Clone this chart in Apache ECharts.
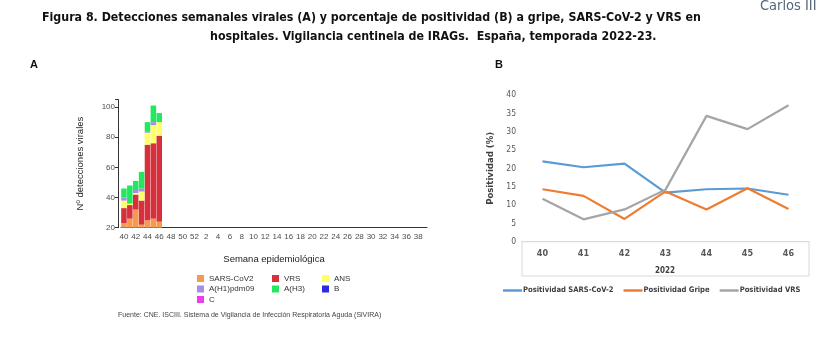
<!DOCTYPE html>
<html><head><meta charset="utf-8">
<script src="https://cdn.jsdelivr.net/npm/echarts@6/dist/echarts.min.js"></script>
<style>html,body{margin:0;padding:0;background:#fff}#c{width:829px;height:343px}</style>
</head><body><div id="c"></div>
<script>
// ---- Panel A data ----
const weeks = ['40','41','42','43','44','45','46','47','48','49','50','51','52',
  '1','2','3','4','5','6','7','8','9','10','11','12','13','14','15','16','17','18','19',
  '20','21','22','23','24','25','26','27','28','29','30','31','32','33','34','35','36','37','38','39'];
const sarsCov2 = [23, 26, 32, 22, 25, 26, 24];
const vrs      = [10,  9, 10, 16, 50, 50, 57];
const ans      = [ 5,  1,  1,  6,  8, 12,  9];
const ah1pdm09 = [ 2,  0,  2,  2,  1,  2,  0];
const ah3      = [ 6, 12,  6, 11,  6, 11,  6];
const gripeB   = [ 0,  0,  0,  0,  0,  0,  0];
const gripeC   = [ 0,  0,  0,  0,  0,  0,  0];
const yTicksA  = [20, 40, 60, 80, 100];

// ---- Panel B data ----
const semanasB = ['40','41','42','43','44','45','46'];
const posSars  = [21.9, 20.3, 21.3, 13.4, 14.3, 14.5, 12.8];
const posGripe = [14.3, 12.5, 6.2, 13.7, 8.8, 14.6, 8.9];
const posVrs   = [11.7, 6.1, 8.8, 14.2, 34.3, 30.7, 37.2];

const arial = "'Liberation Sans', Arial, sans-serif";
const calibri = "'Liberation Sans Narrow', 'DejaVu Sans Condensed', 'Liberation Sans', sans-serif";

function bar(name, data, color) {
  return { name, type: 'bar', stack: 'a', xAxisIndex: 0, yAxisIndex: 0,
    data, barCategoryGap: '6%', itemStyle: { color }, emphasis: { disabled: true } };
}
function line(name, data, color) {
  return { name, type: 'line', xAxisIndex: 1, yAxisIndex: 1, data, symbol: 'none',
    lineStyle: { color, width: 2.2 }, itemStyle: { color }, emphasis: { disabled: true } };
}

const chart = echarts.init(document.getElementById('c'), null, { renderer: 'canvas' });
const legendBase = { orient: 'vertical', itemWidth: 7, itemHeight: 7, itemGap: 2.5, padding: 0,
  icon: 'rect', textStyle: { fontFamily: arial, fontSize: 8, color: '#333' }, selectedMode: false };

chart.setOption({
  animation: false,
  grid: [
    { left: 121, right: 402, top: 99.5, bottom: 115.3 },
    { left: 522, right: 20, top: 95, bottom: 101.3 },
    { left: 522, right: 20, top: 241.7, bottom: 67, show: true, borderColor: '#d9d9d9', borderWidth: 1, backgroundColor: 'transparent' }
  ],
  xAxis: [
    { type: 'category', gridIndex: 0, data: weeks,
      axisLine: { lineStyle: { color: '#333', width: 1 } },
      axisTick: { interval: 0, length: 3, lineStyle: { color: '#333' } },
      axisLabel: { interval: 1, fontFamily: arial, fontSize: 8, color: '#4d4d4d', margin: 5 },
      name: 'Semana epidemiológica', nameLocation: 'middle', nameGap: 27,
      nameTextStyle: { fontFamily: arial, fontSize: 9.5, color: '#222' } },
    { type: 'category', gridIndex: 1, data: semanasB,
      axisLine: { lineStyle: { color: '#d9d9d9' } }, axisTick: { show: false },
      axisLabel: { fontFamily: calibri, fontWeight: 'bold', fontSize: 9, color: '#595959', margin: 7 } },
    { type: 'category', gridIndex: 2, show: false, data: semanasB }
  ],
  yAxis: [
    { type: 'value', gridIndex: 0, min: 20, max: 105, interval: 20, offset: 3,
      splitLine: { show: false },
      axisLine: { show: true, lineStyle: { color: '#333' } },
      axisTick: { show: true, length: 3, lineStyle: { color: '#333' } },
      axisLabel: { fontFamily: arial, fontSize: 8, color: '#4d4d4d', margin: 3,
        formatter: v => yTicksA.includes(v) ? String(v) : '' },
      name: 'Nº detecciones virales', nameLocation: 'middle', nameGap: 33, nameRotate: 90,
      nameTextStyle: { fontFamily: arial, fontSize: 9.5, color: '#222' } },
    { type: 'value', gridIndex: 1, min: 0, max: 40, interval: 5,
      splitLine: { show: false }, axisLine: { show: false }, axisTick: { show: false },
      axisLabel: { fontFamily: calibri, fontSize: 8.5, color: '#595959', margin: 6 },
      name: 'Positividad (%)', nameLocation: 'middle', nameGap: 26, nameRotate: 90,
      nameTextStyle: { fontFamily: calibri, fontWeight: 'bold', fontSize: 9.5, color: '#404040' } },
    { type: 'value', gridIndex: 2, show: false, min: 0, max: 1 }
  ],
  legend: [
    Object.assign({}, legendBase, { left: 197, top: 274.5, data: ['SARS-CoV2', 'A(H1)pdm09', 'C'] }),
    Object.assign({}, legendBase, { left: 272, top: 274.5, data: ['VRS', 'A(H3)'] }),
    Object.assign({}, legendBase, { left: 322, top: 274.5, data: ['ANS', 'B'] }),
    { left: 503, top: 286.5, itemWidth: 19, itemHeight: 2.5, itemGap: 10, icon: 'rect', padding: 0, selectedMode: false,
      data: ['Positividad SARS-CoV-2', 'Positividad Gripe', 'Positividad VRS'],
      textStyle: { fontFamily: calibri, fontWeight: 'bold', fontSize: 7.6, color: '#404040', padding: [0, 0, 0, -4] } }
  ],
  series: [
    bar('SARS-CoV2', sarsCov2, '#F79A4D'),
    bar('VRS', vrs, '#D5303B'),
    bar('ANS', ans, '#FFFF66'),
    bar('A(H1)pdm09', ah1pdm09, '#A98BE8'),
    bar('A(H3)', ah3, '#22E860'),
    bar('B', gripeB, '#2B2BE0'),
    bar('C', gripeC, '#F03CF0'),
    line('Positividad SARS-CoV-2', posSars, '#5B9BD5'),
    line('Positividad Gripe', posGripe, '#ED7D31'),
    line('Positividad VRS', posVrs, '#A5A5A5')
  ],
  graphic: [
    { type: 'text', left: 42, top: 11.5, style: { text: 'Figura 8. Detecciones semanales virales (A) y porcentaje de positividad (B) a gripe, SARS-CoV-2 y VRS en',
      font: "bold 12.3px " + calibri, fill: '#111' } },
    { type: 'text', left: 210, top: 30.5, style: { text: 'hospitales. Vigilancia centinela de IRAGs.  España, temporada 2022-23.',
      font: "bold 12.3px " + calibri, fill: '#111' } },
    { type: 'text', left: 760, top: -1, style: { text: 'Carlos III', font: "14.5px " + calibri, fill: '#55677a' } },
    { type: 'text', left: 30, top: 59, style: { text: 'A', font: "bold 11px " + arial, fill: '#111' } },
    { type: 'text', left: 495, top: 59, style: { text: 'B', font: "bold 11px " + arial, fill: '#111' } },
    { type: 'text', left: 118, top: 312, style: { text: 'Fuente: CNE. ISCIII. Sistema de Vigilancia de Infección Respiratoria Aguda (SiVIRA)',
      font: "7px " + arial, fill: '#444' } },
    { type: 'text', left: 655, top: 267, style: { text: '2022', font: "bold 8px " + calibri, fill: '#404040' } }
  ]
});
</script></body></html>
